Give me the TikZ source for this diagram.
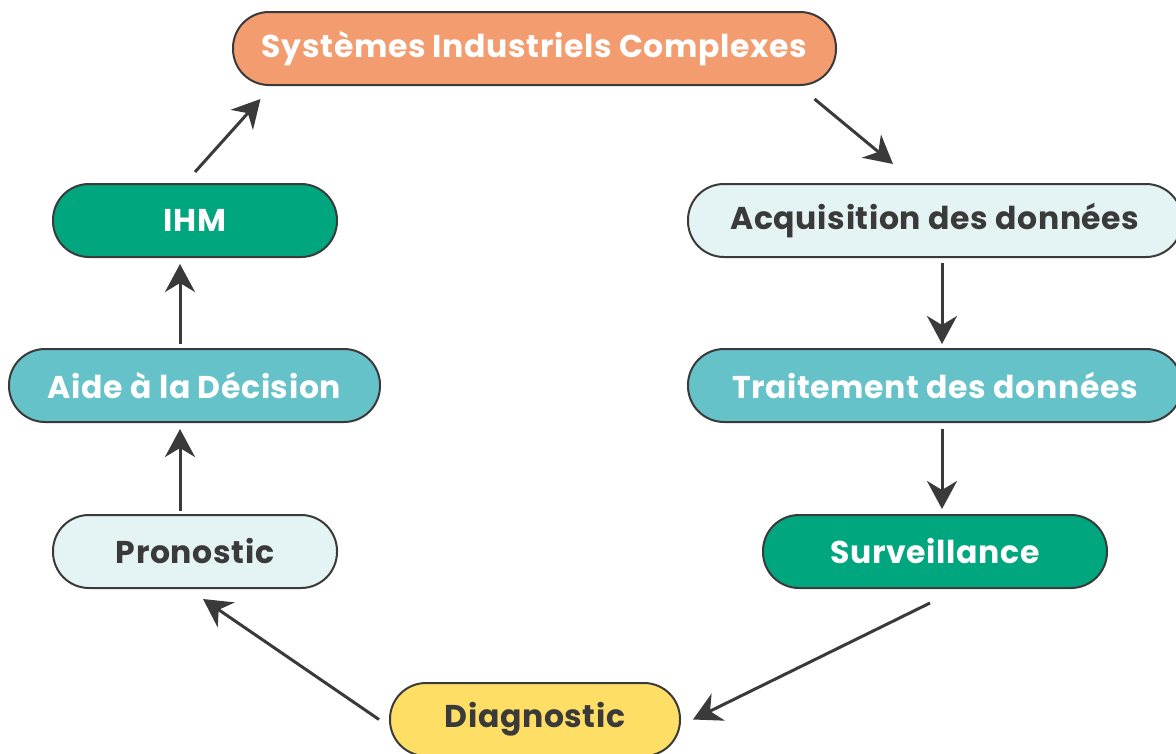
\documentclass[tikz,border=0pt]{standalone}
\usepackage{fontspec}
\setmainfont{Poppins}[BoldFont={* Bold}, LetterSpace=2]
\usetikzlibrary{arrows.meta}
\definecolor{edgegray}{HTML}{3A3A3A}
\definecolor{orangefill}{HTML}{F39C6F}
\definecolor{greenfill}{HTML}{00A67E}
\definecolor{bluefill}{HTML}{66C2C9}
\definecolor{palefill}{HTML}{E4F3F4}
\definecolor{yellowfill}{HTML}{FFDE66}
\tikzset{
  pill/.style={draw=edgegray, line width=2pt, rounded corners=36pt,
    minimum height=73pt, inner sep=0pt, font=\bfseries\fontsize{31.5}{34}\selectfont},
  darktext/.style={pill, text=edgegray},
  lighttext/.style={pill, text=white},
  flow/.style={draw=edgegray, line width=3pt,
    -{Stealth[length=28pt,width=30pt,inset=9pt]}}
}
\begin{document}
\begin{tikzpicture}[x=1pt,y=-1pt]
\useasboundingbox (0,0) rectangle (1176,753);
\clip (0,0) rectangle (1176,753);

% cycle stages
\node[lighttext, fill=orangefill, minimum width=603pt] (sys) at (534.5,48.5) {Systèmes Industriels Complexes};
\node[darktext, fill=palefill, minimum width=494pt] (acq) at (935,220.5) {Acquisition des données};
\node[lighttext, fill=bluefill, minimum width=494pt] (trt) at (935,385.5) {Traitement des données};
\node[lighttext, fill=greenfill, minimum width=344pt] (sur) at (935,551.5) {Surveillance};
\node[darktext, fill=yellowfill, minimum width=290pt] (dia) at (535,719.5) {Diagnostic};
\node[darktext, fill=palefill, minimum width=284pt] (pro) at (195,551.5) {Pronostic};
\node[lighttext, fill=bluefill, minimum width=371pt] (aid) at (194.5,385.5) {Aide à la Décision};
\node[lighttext, fill=greenfill, minimum width=284pt] (ihm) at (195,220.5) {IHM};

% connectors
\draw[flow] ([xshift=280pt,yshift=-13pt]sys.south) -- ([xshift=-42pt,yshift=19pt]acq.north);
\draw[flow] ([xshift=7pt,yshift=-5pt]acq.south) -- ([xshift=7pt,yshift=4pt]trt.north);
\draw[flow] ([xshift=7pt,yshift=-6pt]trt.south) -- ([xshift=7pt,yshift=5pt]sur.north);
\draw[flow] ([xshift=-5pt,yshift=-14pt]sur.south) -- ([xshift=12pt]dia.east);
\draw[flow] ([xshift=-10pt]dia.west) -- ([xshift=8pt,yshift=-10pt]pro.south);
\draw[flow] ([xshift=-15pt,yshift=3pt]pro.north) -- ([xshift=-14.5pt,yshift=-6pt]aid.south);
\draw[flow] ([xshift=-14.5pt,yshift=4pt]aid.north) -- ([xshift=-15pt,yshift=-6pt]ihm.south);
\draw[flow] ([yshift=11pt]ihm.north) -- ([xshift=-274pt,yshift=-13pt]sys.south);
\end{tikzpicture}
\end{document}
